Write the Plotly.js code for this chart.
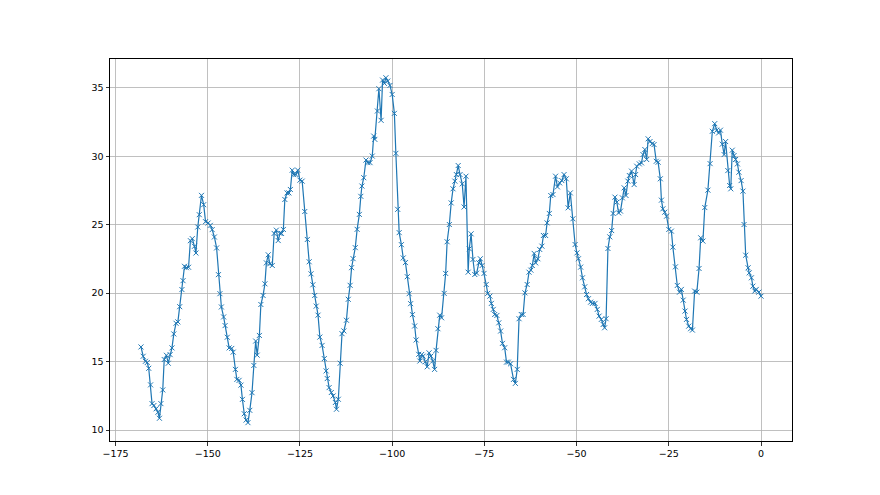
<!DOCTYPE html>
<html>
<head>
<meta charset="utf-8">
<script src="https://cdn.plot.ly/plotly-3.0.1.min.js"></script>
<style>html,body{margin:0;padding:0;background:#fff;}#chart{width:880px;height:495px;}</style>
</head>
<body>
<div id="chart"></div>
<script>
// Hours relative to now
const hours = [
  -168.1,-167.5,-166.9,-166.4,-166.0,-165.5,-165.1,-164.6,-164.0,-163.5,-163.1,-162.7,-162.2,-161.8,-161.2,-160.7,-160.2,-159.7,-159.2,-158.6,-158.1,-157.6,-157.0,-156.7,-156.3,-155.8,-155.2,-154.7,-154.2,-153.6,-153.2,-152.7,-152.3,-151.7,-151.1,-150.6,-149.9,-149.3,-148.8,-148.2,-147.6,-147.1,-146.7,-146.3,-145.7,-145.3,-144.7,-144.2,
  -143.5,-143.1,-142.5,-142.1,-141.5,-141.0,-140.6,-140.1,-139.6,-139.1,-138.6,-138.0,-137.5,-137.0,-136.6,-136.0,-135.6,-135.0,-134.5,-134.1,-133.6,-133.2,-132.5,-132.0,-131.4,-130.9,-130.4,-130.0,-129.5,-129.1,-128.5,-128.0,-127.6,-127.1,-126.7,-126.1,-125.6,-125.0,-124.4,-123.7,-123.0,-122.5,-122.0,-121.5,-121.0,-120.6,-120.1,-119.6,-119.0,
  -118.4,-117.9,-117.6,-117.1,-116.5,-116.0,-115.4,-115.1,-114.6,-114.1,-113.6,-113.1,-112.4,-111.9,-111.4,-111.0,-110.6,-110.0,-109.5,-108.9,-108.5,-108.2,-107.7,-107.1,-106.6,-106.0,-105.4,-105.0,-104.7,-104.0,-103.6,-103.0,-102.6,-102.1,-101.7,-101.2,-100.6,-100.0,-99.4,-99.0,-98.5,-98.1,-97.5,-97.0,-96.4,-95.9,-95.4,-95.0,-94.5,-93.9,-93.5,-92.8,
  -92.5,-92.0,-91.6,-91.0,-90.5,-90.0,-89.5,-89.0,-88.5,-88.1,-87.6,-87.1,-86.6,-85.9,-85.5,-85.1,-84.5,-84.0,-83.5,-83.0,-82.6,-82.1,-81.6,-81.0,-80.5,-80.0,-79.4,-79.1,-78.6,-78.1,-77.6,-77.1,-76.5,-76.1,-75.6,-75.1,-74.5,-74.1,-73.5,-73.1,-72.6,-72.2,-71.6,-71.1,-70.6,-70.1,-69.5,-69.0,-68.5,-67.9,
  -67.1,-66.6,-66.1,-65.6,-65.0,-64.5,-64.0,-63.4,-62.9,-62.4,-62.0,-61.5,-61.1,-60.5,-60.0,-59.4,-59.0,-58.4,-58.0,-57.4,-57.0,-56.4,-55.7,-55.2,-54.6,-54.0,-53.4,-52.8,-52.3,-51.7,-51.0,-50.4,-49.9,-49.5,-48.9,-48.4,-47.8,-47.3,-46.8,-46.2,-45.7,-45.0,-44.4,-43.9,-43.3,-42.8,-42.4,-42.0,-41.5,-41.0,
  -40.5,-40.1,-39.6,-39.1,-38.6,-38.1,-37.6,-37.1,-36.6,-36.1,-35.7,-35.1,-34.4,-34.0,-33.7,-33.0,-32.4,-32.0,-31.5,-31.0,-30.6,-30.1,-29.5,-29.0,-28.4,-27.9,-27.3,-27.0,-26.6,-26.1,-25.6,-25.0,-24.3,-23.9,-23.2,-22.7,-22.1,-21.6,-21.1,-20.6,-20.2,-19.6,-19.1,-18.6,-18.0,-17.4,-16.8,-16.35,-15.75,-15.25,
  -14.4,-13.8,-13.2,-12.55,-12.0,-11.5,-11.0,-10.5,-10.0,-9.6,-9.0,-8.5,-8.2,-7.8,-7.3,-6.9,-6.4,-6.0,-5.4,-4.9,-4.6,-4.15,-3.5,-3.2,-2.6,-2.2,-1.7,-1.3,-0.6,0.0
];

// Measured values
const values = [
  16.07,15.39,15.02,14.93,14.51,13.3,11.93,11.79,11.55,11.3,10.86,11.93,12.93,15.15,15.46,14.88,15.51,16.0,17.02,17.8,17.9,19.01,20.26,20.91,21.96,21.86,21.89,23.83,23.98,23.42,22.93,24.83,25.73,27.14,26.46,25.22,25.12,24.95,24.64,24.1,23.3,21.35,19.96,18.99,18.26,17.63,16.78,16.0,
  15.96,15.69,14.43,13.7,13.63,13.28,12.24,11.19,10.73,10.54,11.44,12.73,14.72,16.5,15.47,16.91,19.17,19.83,20.68,22.21,22.8,22.14,22.02,24.36,24.6,23.84,24.36,24.36,24.65,26.84,27.32,27.32,27.57,28.98,28.66,28.66,28.98,28.25,28.18,25.96,23.92,22.29,21.41,20.61,19.83,19.05,18.39,16.79,16.18,
  15.22,14.32,13.76,13.1,12.74,12.49,12.01,11.52,12.25,14.88,17.04,17.24,18.02,19.55,20.57,21.86,22.52,23.32,24.66,25.75,27.07,27.82,28.43,29.72,29.53,29.53,30.01,31.47,31.23,33.3,34.93,32.62,35.56,35.32,35.73,35.49,35.17,34.51,33.13,30.21,26.12,24.42,23.54,22.57,22.23,21.2,19.96,19.23,18.43,17.6,16.58,15.53,
  15.04,15.52,15.4,14.99,14.62,15.64,15.4,15.04,14.43,15.82,17.4,18.39,18.2,19.98,21.44,23.75,25.01,26.59,27.62,28.18,28.66,29.32,28.66,27.98,26.29,28.54,21.53,23.24,24.33,22.46,21.36,21.46,22.21,22.51,22.02,21.44,20.63,19.98,19.78,19.25,18.81,18.44,18.37,17.83,17.23,16.33,16.01,14.96,14.96,14.84,
  13.7,13.41,14.43,18.13,18.44,18.44,20.02,20.63,21.53,21.68,22.02,22.9,22.21,22.51,23.19,23.43,24.21,24.21,25.13,25.82,27.13,27.2,28.54,27.76,28.05,28.22,28.66,28.35,26.23,27.32,25.43,23.55,22.94,22.51,21.9,21.12,20.46,19.9,19.59,19.34,19.25,19.25,18.81,18.32,18.08,17.71,17.47,18.13,23.26,24.11,
  24.57,25.82,27.01,26.64,25.86,25.99,26.96,27.69,27.13,28.18,28.59,28.91,27.93,28.66,29.27,29.44,29.51,30.12,30.49,29.76,31.27,31.07,30.92,30.85,29.63,29.56,28.35,26.79,26.16,25.91,25.62,24.65,24.53,23.36,21.92,20.56,20.07,20.27,19.49,18.69,18.08,17.59,17.4,17.3,20.15,20.07,21.8,24.04,23.8,26.25,
  27.52,29.46,31.82,32.38,31.9,31.7,31.9,30.88,30.12,31.07,28.95,27.86,27.62,30.44,30.05,29.76,29.44,28.83,28.22,27.45,25.01,22.77,21.85,21.48,21.12,20.51,20.15,20.27,20.07,19.78
];

const xTicks = [-175, -150, -125, -100, -75, -50, -25, 0];
const yTicks = [10, 15, 20, 25, 30, 35];

const axisCommon = {
  showgrid: true,
  gridcolor: '#b0b0b0',
  gridwidth: 0.8,
  zeroline: false,
  showline: true,
  mirror: true,
  linecolor: '#000',
  linewidth: 1,
  ticks: 'outside',
  ticklen: 3.5,
  tickwidth: 0.8,
  tickcolor: '#000',
  tickfont: {family: 'DejaVu Sans', size: 9.5, color: '#000'}
};

const trace = {
  x: hours,
  y: values,
  type: 'scatter',
  mode: 'lines+markers',
  line: {color: '#1f77b4', width: 1.2},
  marker: {symbol: 'x-thin', size: 5, color: '#1f77b4', line: {color: '#1f77b4', width: 1}},
  hoverinfo: 'x+y'
};

const layout = {
  width: 880,
  height: 495,
  margin: {l: 110, r: 88, t: 59, b: 54, pad: 0},
  paper_bgcolor: '#fff',
  plot_bgcolor: '#fff',
  showlegend: false,
  xaxis: Object.assign({}, axisCommon, {range: [-176.5, 8.4], tickmode: 'array', tickvals: xTicks, ticktext: xTicks.map(v => v < 0 ? '\u2212' + Math.abs(v) : String(v))}),
  yaxis: Object.assign({}, axisCommon, {range: [9.2, 37.1], tickmode: 'array', tickvals: yTicks, ticktext: yTicks.map(String)})
};

Plotly.newPlot('chart', [trace], layout, {displayModeBar: false, staticPlot: true});
</script>
</body>
</html>
